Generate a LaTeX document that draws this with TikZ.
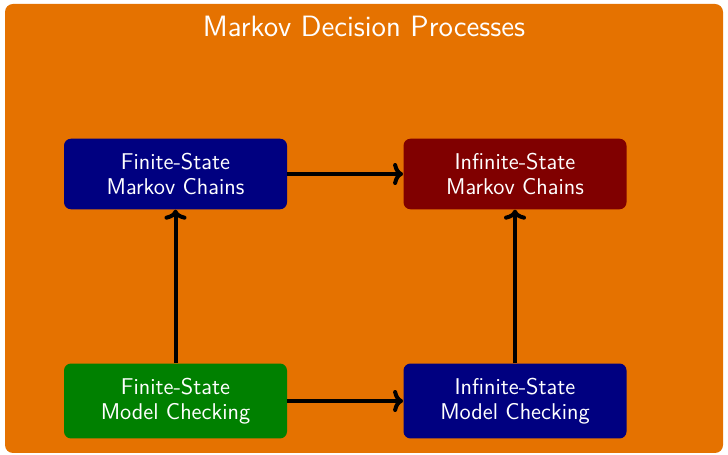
\documentclass[tikz,border=0pt]{standalone}
\usetikzlibrary{arrows.meta}
\definecolor{mdporange}{RGB}{229,114,0}
\definecolor{boxblue}{RGB}{0,0,128}
\definecolor{boxred}{RGB}{128,0,0}
\definecolor{boxgreen}{RGB}{0,128,0}
\tikzset{
  topic/.style={rounded corners=3.5pt, text=white,
    font=\fontsize{11.4}{12.6}\selectfont\sffamily,
    align=center, minimum width=111.5pt, inner xsep=4pt, inner ysep=7.2pt},
  link/.style={line width=2pt, black,
    -{Computer Modern Rightarrow[length=5pt,width=11pt]}}
}
\begin{document}
\begin{tikzpicture}[x=1pt,y=1pt]
  \useasboundingbox (0,0) rectangle (364,227.5);
  % orange frame of the whole diagram
  \fill[mdporange, rounded corners=4pt] (2.5,1) rectangle (361.5,225.5);
  \node[anchor=base, text=white, font=\fontsize{14.7}{18}\selectfont\sffamily] (title) at (182,209)
    {Markov Decision Processes};

  \node[topic, fill=boxblue]  (fsmc) at (87.75,140.5) {Finite-State\\Markov Chains};
  \node[topic, fill=boxred]   (ismc) at (257.5,140.5) {Infinite-State\\Markov Chains};
  \node[topic, fill=boxgreen] (fsmk) at (87.75,27)    {Finite-State\\Model Checking};
  \node[topic, fill=boxblue]  (ismk) at (257.5,27)    {Infinite-State\\Model Checking};

  \draw[link] (fsmc) -- (ismc);
  \draw[link] (fsmk) -- (ismk);
  \draw[link] (fsmk) -- (fsmc);
  \draw[link] (ismk) -- (ismc);
\end{tikzpicture}
\end{document}
